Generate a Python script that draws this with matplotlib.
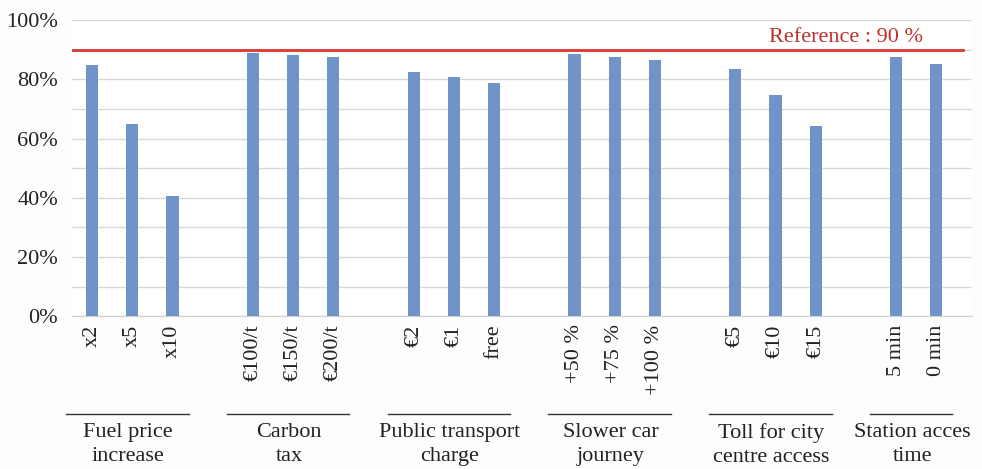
import matplotlib.pyplot as plt
from matplotlib.ticker import MultipleLocator, FuncFormatter

# groups of measures and their options
groups = ['Fuel price\nincrease', 'Carbon\ntax', 'Public transport\ncharge',
          'Slower car\njourney', 'Toll for city\ncentre access', 'Station acces\ntime']
options = [['x2', 'x5', 'x10'],
           ['€100/t', '€150/t', '€200/t'],
           ['€2', '€1', 'free'],
           ['+50 %', '+75 %', '+100 %'],
           ['€5', '€10', '€15'],
           ['5 min', '0 min']]
values = [[85, 65, 40.5],
          [89, 88.2, 87.5],
          [82.6, 80.7, 78.8],
          [88.5, 87.6, 86.6],
          [83.5, 74.6, 64.3],
          [87.6, 85.3]]
reference = 90

plt.rcParams['font.family'] = ['Liberation Serif', 'DejaVu Serif']

fig = plt.figure(figsize=(9.82, 4.69), dpi=100)
ax = fig.add_axes([0.0733, 0.326, 0.917, 0.631])

pos = []
labels = []
heights = []
spans = []
p = 0
for opts, vals in zip(options, values):
    start = p
    for o, v in zip(opts, vals):
        pos.append(p)
        labels.append(o)
        heights.append(v)
        p += 1
    spans.append((start, p - 1))
    p += 1

ax.bar(pos, heights, width=0.3, color='#7094c8', zorder=3)
ax.axhline(reference, xmin=0, xmax=0.99, color='#d93a30', lw=2, zorder=4)
ax.text(0.945, reference + 0.8, f'Reference : {reference} %', color='#c0302a',
        fontsize=16, ha='right', va='bottom', transform=ax.get_yaxis_transform())

ax.set_xlim(-0.5, 21.9)
ax.set_ylim(0, 100)
ax.yaxis.set_major_locator(MultipleLocator(20))
ax.yaxis.set_minor_locator(MultipleLocator(10))
ax.yaxis.set_major_formatter(FuncFormatter(lambda v, _: f'{v:.0f}%'))
ax.grid(axis='y', which='both', color='#d9d9d9', lw=1, zorder=0)
for s in ['top', 'right', 'left']:
    ax.spines[s].set_visible(False)
ax.spines['bottom'].set_color('#d0d0d0')
ax.tick_params(axis='y', which='both', length=0, pad=10, labelsize=16, colors='#222222')
ax.set_xticks(pos)
ax.set_xticklabels(labels, rotation=90, fontsize=16, color='#222222')
ax.tick_params(axis='x', length=0, pad=6)

# group labels with a line above them
trans = ax.get_xaxis_transform()
for g, (a, b) in zip(groups, spans):
    ax.plot([a - 0.65, b + 0.4], [-0.331, -0.331], color='#333333', lw=1,
            transform=trans, clip_on=False)
    ax.text((a + b) / 2 - 0.1, -0.36, g, ha='center', va='top', fontsize=16,
            color='#222222', transform=trans, linespacing=1.4)

fig.savefig('out.png', dpi=100, facecolor='#fdfdfd')
